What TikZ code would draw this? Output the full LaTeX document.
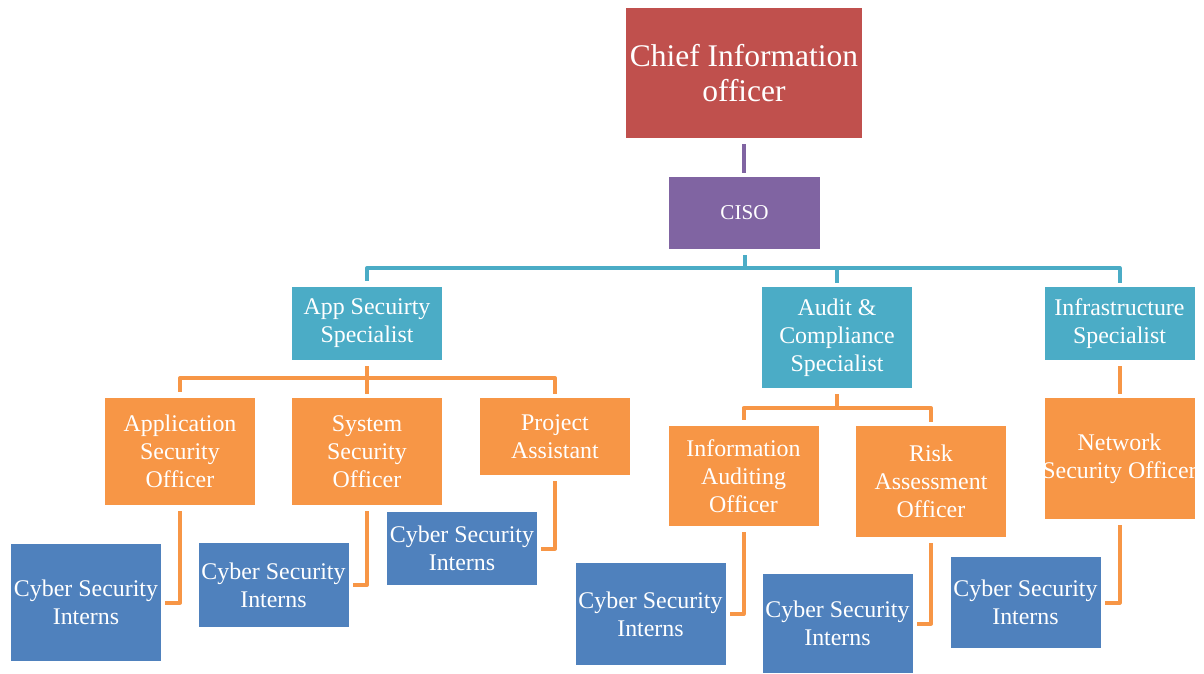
\documentclass[tikz,border=0pt]{standalone}
\usepackage{fontspec}
\setmainfont{Liberation Serif}

\definecolor{headRed}{HTML}{C0504D}
\definecolor{cisoViolet}{HTML}{8064A2}
\definecolor{specTeal}{HTML}{4BACC6}
\definecolor{staffOrange}{HTML}{F79646}
\definecolor{internBlue}{HTML}{4F81BD}

\begin{document}
\begin{tikzpicture}[
x=0.25mm, y=-0.25mm,
box/.style={
	rectangle, inner sep=0pt, text=white, align=center,
	minimum width=37.5mm, font=\fontsize{17}{20}\selectfont
},
head/.style={box, fill=headRed, minimum width=59mm, minimum height=32.5mm,
	font=\fontsize{22.4}{25}\selectfont},
ciso box/.style={box, fill=cisoViolet, minimum width=37.75mm, minimum height=18mm,
	font=\fontsize{15}{18}\selectfont},
specialist/.style={box, fill=specTeal},
officer/.style={box, fill=staffOrange},
intern/.style={box, fill=internBlue},
link/.style={line width=1mm, line join=round, shorten <=1.5mm, shorten >=1mm}
]
\useasboundingbox (0,0) rectangle (1204,673);

% top of the chart
\node[head] (cio) at (744,73) {Chief Information\\officer};
\node[ciso box] (ciso) at (744.5,213) {CISO};

% specialists
\node[specialist, minimum height=18.25mm] (app) at (367,323.5) {App Secuirty\\Specialist};
\node[specialist, minimum height=25.25mm] (audit) at (837,337.5) {Audit \&\\Compliance\\Specialist};
\node[specialist, minimum height=18.25mm] (infra) at (1119.5,323.5) {Infrastructure\\Specialist};

% officers
\node[officer, minimum height=26.75mm] (aso) at (180,451.5) {Application\\Security\\Officer};
\node[officer, minimum height=26.75mm] (sso) at (367,451.5) {System\\Security\\Officer};
\node[officer, minimum height=19.25mm] (pa) at (555,436.5) {Project\\Assistant};
\node[officer, minimum height=25mm] (iao) at (743.5,476) {Information\\Auditing\\Officer};
\node[officer, minimum height=27.75mm] (rao) at (931,481.5) {Risk\\Assessment\\Officer};
\node[officer, minimum height=30.25mm] (nso) at (1119.5,458.5) {Network\\\makebox[37.5mm]{Security Officer}};

% interns
\node[intern, minimum height=29.25mm] (int1) at (86,602.5) {Cyber Security\\Interns};
\node[intern, minimum height=21mm] (int2) at (273.5,585) {Cyber Security\\Interns};
\node[intern, minimum height=18.25mm] (int3) at (462,548.5) {Cyber Security\\Interns};
\node[intern, minimum height=25.5mm] (int4) at (650.5,614) {Cyber Security\\Interns};
\node[intern, minimum height=24.75mm] (int5) at (837.5,623.5) {Cyber Security\\Interns};
\node[intern, minimum height=22.75mm] (int6) at (1025.5,602.5) {Cyber Security\\Interns};

% connectors
\draw[link, draw=cisoViolet] (cio.south) -- (cio.south |- ciso.north);

\coordinate (top bus) at (744,268);
\draw[link, draw=specTeal, shorten >=0pt] (ciso.south) -- (ciso.south |- top bus);
\draw[link, draw=specTeal] (app.north) |- (top bus) -| (infra.north);
\draw[link, draw=specTeal, shorten <=0pt] (top bus -| audit.north) -- (audit.north);

\coordinate (app bus) at (367,378);
\draw[link, draw=staffOrange, shorten >=0pt] (app.south) -- (app bus);
\draw[link, draw=staffOrange] (aso.north) |- (app bus) -| (pa.north);
\draw[link, draw=staffOrange, shorten <=0pt] (app bus) -- (sso.north);

\coordinate (audit bus) at (837,408);
\draw[link, draw=staffOrange, shorten >=0pt] (audit.south) -- (audit bus);
\draw[link, draw=staffOrange] (iao.north) |- (audit bus) -| (rao.north);

\draw[link, draw=staffOrange] (infra.south) -- (nso.north);

\foreach \boss/\intern in {aso/int1, sso/int2, pa/int3, iao/int4, rao/int5, nso/int6}
	\draw[link, draw=staffOrange] (\boss.south) |- (\intern.east);
\end{tikzpicture}
\end{document}
